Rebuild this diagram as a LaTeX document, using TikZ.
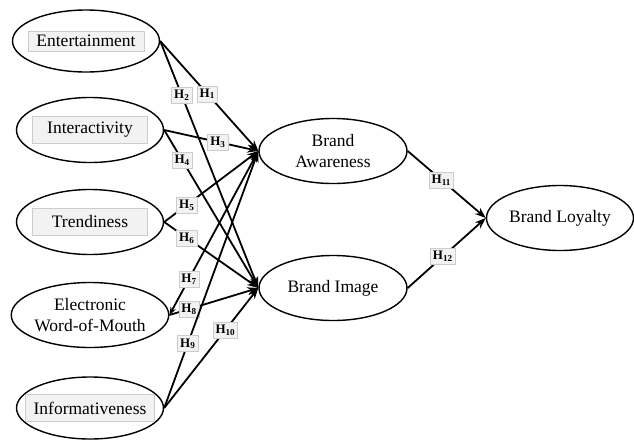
\documentclass[tikz,border=0pt]{standalone}
\usepackage{fontspec}
\setmainfont{Liberation Serif}
\usetikzlibrary{arrows.meta, shapes.geometric}
\newcommand{\hyp}[1]{H\textsubscript{#1}}

\begin{document}
\begin{tikzpicture}[x=1pt, y=-1pt, line width=1.8pt,
    construct/.style={ellipse, draw, line width=1.4pt, inner sep=0pt,
        minimum width=147pt, minimum height=65pt,
        font=\fontsize{17.5}{21}\selectfont, align=center},
    tag/.style={draw=gray!40, fill=gray!10, line width=0.6pt, inner sep=3pt,
        minimum width=115pt, minimum height=27pt, font=\fontsize{17.5}{21}\selectfont},
    hbox/.style={draw=gray!40, fill=gray!10, line width=0.6pt, inner sep=2.5pt,
        minimum height=16pt, font=\fontsize{13}{13}\bfseries},
    link/.style={-{Stealth[length=11pt, width=8pt]}}]
        \useasboundingbox (0,0) rectangle (634,440);
        % Antecedents
        \node[construct, minimum height=62pt, label={[tag, minimum width=116pt, minimum height=20pt]center:Entertainment}] (ent) at (86,41) {};
        \node[construct, label={[tag]center:Interactivity}] (int) at (90,130) {};
        \node[construct, label={[tag]center:Trendiness}] (trend) at (90,222) {};
        \node[construct] (ewom) at (90,315) {Electronic\\Word-of-Mouth};
        \node[construct, minimum height=62pt, label={[tag, minimum width=129pt]center:Informativeness}] (info) at (90,408) {};
        % Mediators and outcome
        \node[construct, minimum width=148pt] (aware) at (333,151) {Brand\\Awareness};
        \node[construct, minimum width=148pt] (image) at (333,288) {Brand Image};
        \node[construct] (loyal) at (560,218) {Brand Loyalty};
        % Paths to Brand Awareness / Brand Image
        \draw[link] (ent.east) -- (aware.west) node[hbox, pos=0.48] {\hyp{1}};
        \draw[link] (ent.east) -- (image.west) node[hbox, pos=0.22] {\hyp{2}};
        \draw[link] (int.east) -- (aware.west) node[hbox, pos=0.57] {\hyp{3}};
        \draw[link] (int.east) -- (image.west) node[hbox, pos=0.19] {\hyp{4}};
        \draw[link] (trend.east) -- (aware.west) node[hbox, pos=0.24] {\hyp{5}};
        \draw[link] (trend.east) -- (image.west) node[hbox, pos=0.24] {\hyp{6}};
        \draw[{Stealth[length=8pt, width=6pt]}-{Stealth[length=11pt, width=8pt]}] (ewom.east) -- (aware.west) node[hbox, pos=0.22] {\hyp{7}};
        \draw[link] (ewom.east) -- (image.west) node[hbox, pos=0.22] {\hyp{8}};
        \draw[link] (info.east) -- (aware.west) node[hbox, pos=0.25] {\hyp{9}};
        \draw[link] (info.east) -- (image.west) node[hbox, pos=0.65] {\hyp{10}};
        % Paths to Brand Loyalty
        \draw[link] (aware.east) -- (loyal.west) node[hbox, pos=0.43] {\hyp{11}};
        \draw[link] (image.east) -- (loyal.west) node[hbox, pos=0.45] {\hyp{12}};
    \end{tikzpicture}
\end{document}
